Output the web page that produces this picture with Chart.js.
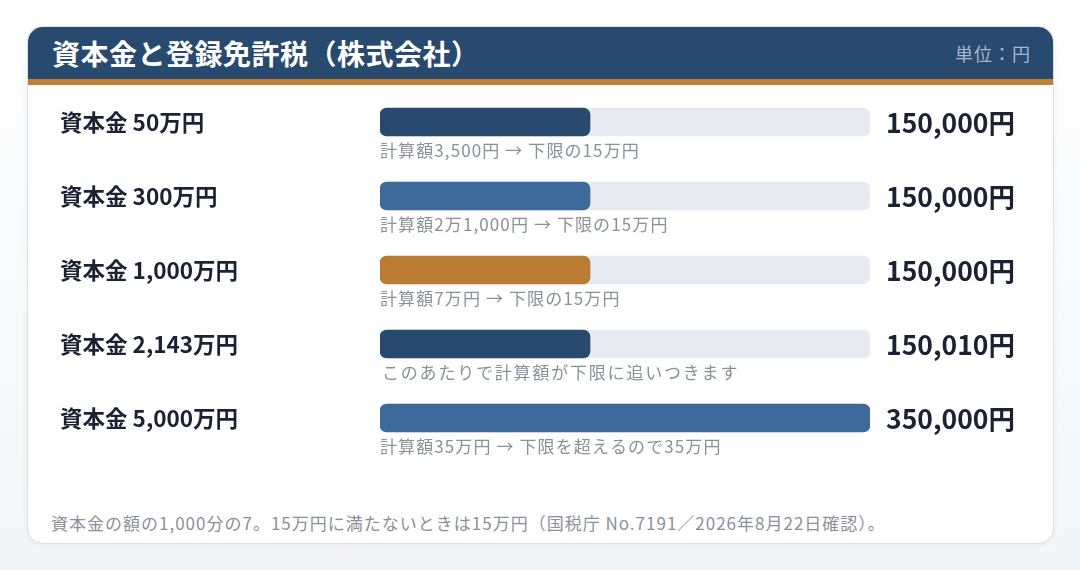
<!DOCTYPE html>
<html lang="ja">
<head>
<meta charset="utf-8">
<script src="https://cdn.jsdelivr.net/npm/chart.js@4.4.1/dist/chart.umd.min.js"></script>
<style>
  html, body { margin: 0; padding: 0; }
  body {
    width: 1080px; height: 570px; position: relative; overflow: hidden;
    background: linear-gradient(180deg, #ffffff 0%, #f3f5f8 100%);
    font-family: "Noto Sans CJK JP", "Noto Sans", sans-serif;
  }
  .card {
    position: absolute; left: 27px; top: 26px; width: 1025px; height: 516px;
    background: #fff; border: 1px solid #d9e0ea; border-radius: 16px; overflow: hidden;
    box-shadow: 0 2px 6px rgba(30, 50, 80, 0.06);
  }
  .head {
    height: 52px; background: #274a6e; border-bottom: 6px solid #c07f35;
    display: flex; align-items: center; justify-content: space-between; padding: 0 22px 0 24px;
  }
  .head h1 { margin: 0; color: #fff; font-size: 28px; font-weight: 700; letter-spacing: 0.5px; }
  .head .unit { color: #a9b8cc; font-size: 18px; letter-spacing: 1px; }
  .foot {
    position: absolute; left: 23px; top: 484px; line-height: 24px;
    color: #8a909a; font-size: 17px; letter-spacing: 1px; white-space: nowrap;
  }
  #wrap { position: absolute; left: 0; top: 0; width: 1080px; height: 570px; }
</style>
</head>
<body>
<div class="card">
  <div class="head"><h1>資本金と登録免許税（株式会社）</h1><span class="unit">単位：円</span></div>
  <div class="foot">資本金の額の1,000分の7。15万円に満たないときは15万円（国税庁 No.7191／2026年8月22日確認）。</div>
</div>
<div id="wrap"><canvas id="taxChart"></canvas></div>
<script>
// データ
const capitalLabels = ['資本金 50万円', '資本金 300万円', '資本金 1,000万円', '資本金 2,143万円', '資本金 5,000万円'];
const taxValues = [150000, 150000, 150000, 150010, 350000];
const notes = [
    '計算額3,500円 → 下限の15万円',
    '計算額2万1,000円 → 下限の15万円',
    '計算額7万円 → 下限の15万円',
    'このあたりで計算額が下限に追いつきます',
    '計算額35万円 → 下限を超えるので35万円'
];
const axisMax = 350000;

const barColors = ['#274a6e', '#3d6a9a', '#ba7b32', '#274a6e', '#3d6a9a'];
const fontFamily = '"Noto Sans CJK JP", "Noto Sans", sans-serif';

// 値ラベルと注記
const rowTextPlugin = {
    id: 'rowText',
    afterDatasetsDraw(chart) {
        const { ctx, chartArea, scales } = chart;
        ctx.save();
        ctx.textBaseline = 'middle';
        ctx.textAlign = 'left';
        taxValues.forEach((v, i) => {
            const y = scales.y.getPixelForValue(i);
            ctx.fillStyle = '#1a2233';
            ctx.letterSpacing = '0px';
            ctx.font = '700 26.5px ' + fontFamily;
            ctx.fillText(v.toLocaleString('ja-JP') + '円', chartArea.right + 16, y + 1);
            ctx.fillStyle = '#8a909a';
            ctx.letterSpacing = i === 3 ? '1.8px' : '1.1px';
            ctx.font = '400 17px ' + fontFamily;
            ctx.fillText(notes[i], chartArea.left + (i === 3 ? 2 : 0), y + 29);
        });
        ctx.restore();
    }
};

const ctx = document.getElementById('taxChart').getContext('2d');
new Chart(ctx, {
    type: 'bar',
    data: {
        labels: capitalLabels,
        datasets: [
            {
                label: '登録免許税',
                data: taxValues,
                backgroundColor: barColors,
                borderRadius: 7,
                borderSkipped: false,
                barThickness: 28,
                grouped: false
            },
            {
                label: 'track',
                data: capitalLabels.map(() => axisMax),
                backgroundColor: '#e7ebf1',
                borderRadius: 7,
                borderSkipped: false,
                barThickness: 28,
                grouped: false
            }
        ]
    },
    options: {
        indexAxis: 'y',
        responsive: true, maintainAspectRatio: false,
        animation: false,
        layout: { padding: { left: 60, right: 210, top: 85, bottom: 115 } },
        plugins: { legend: { display: false }, tooltip: { enabled: false } },
        scales: {
            x: { display: false, min: 0, max: axisMax },
            y: {
                border: { display: false }, grid: { display: false },
                afterFit(scale) { scale.width = 320; },
                ticks: {
                    crossAlign: 'far', padding: 0, color: '#1a2233',
                    font: { family: fontFamily, size: 22.5, weight: '700' }
                }
            }
        }
    },
    plugins: [rowTextPlugin]
});
</script>
</body>
</html>
